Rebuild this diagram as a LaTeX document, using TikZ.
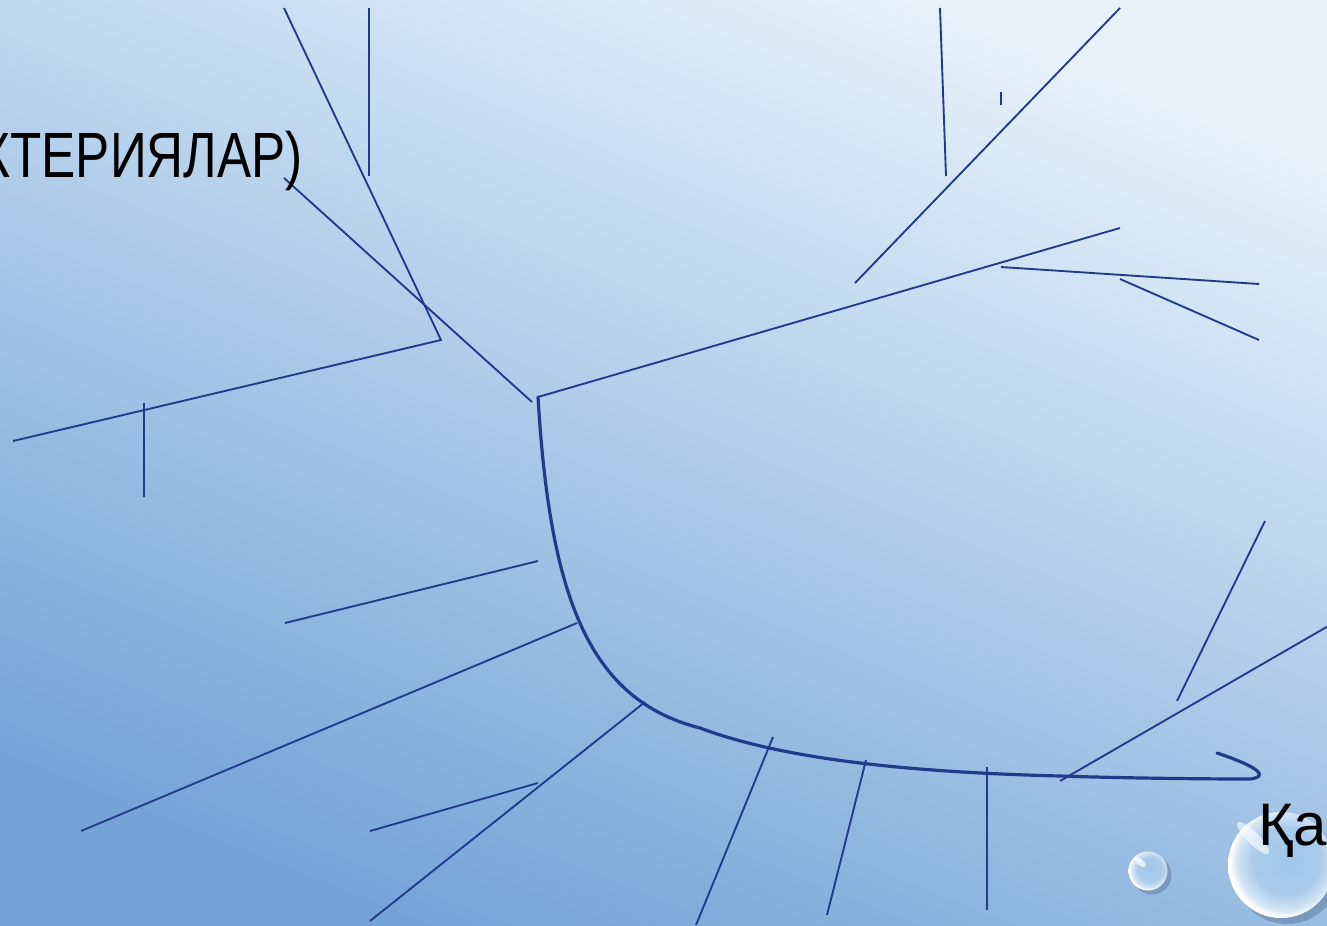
\documentclass[tikz,border=0pt]{standalone}
\usepackage{fontspec}
\setmainfont{Liberation Sans}
\definecolor{bgtop}{RGB}{230,241,250}
\definecolor{bgbot}{RGB}{116,164,215}
\definecolor{ln}{RGB}{33,58,138}
\definecolor{bubin}{RGB}{160,198,232}
\pgfdeclareradialshading{bubble}{\pgfpoint{4bp}{3bp}}{color(0bp)=(bubin); color(16bp)=(bubin!90!white); color(23bp)=(bubin!45!white); color(26bp)=(white); color(50bp)=(white)}
\tikzset{
  thin line/.style={draw=ln, line width=1.4pt},
  spine/.style={draw=ln, line width=2.4pt, line cap=round},
  label text/.style={font=\fontsize{45}{50}\selectfont, text=black, inner sep=0pt},
}
\begin{document}
\begin{tikzpicture}[x=0.75pt,y=-0.75pt]
\useasboundingbox (0,0) rectangle (1327,925);
\begin{scope}
\clip (0,0) rectangle (1327,925);
\shade[bottom color=bgbot, top color=bgtop, shading angle=-22] (0,0) rectangle (1327,925);

% coordinates
\coordinate (S0) at (538,397);
\coordinate (S1) at (700,728);
\coordinate (S2) at (1060,776);
\coordinate (S3) at (1250,779);
\coordinate (S4) at (1217,753);

\coordinate (U1) at (1120,228);
\coordinate (a1) at (284,178); \coordinate (a2) at (532,402);
\coordinate (b1) at (284,8);   \coordinate (b2) at (441,340);
\coordinate (c1) at (369,8);   \coordinate (c2) at (369,176);
\coordinate (d2) at (13,441);
\coordinate (e1) at (144,403); \coordinate (e2) at (144,497);
\coordinate (f1) at (940,8);   \coordinate (f2) at (946,176);
\coordinate (g1) at (1120,8);  \coordinate (g2) at (855,283);
\coordinate (h1) at (1001,92); \coordinate (h2) at (1001,105);
\coordinate (i1) at (1001,267);\coordinate (i2) at (1259,284);
\coordinate (j1) at (1120,279);\coordinate (j2) at (1259,340);
\coordinate (k1) at (538,561); \coordinate (k2) at (285,623);
\coordinate (l1) at (577,623); \coordinate (l2) at (81,831);
\coordinate (m1) at (538,783); \coordinate (m2) at (370,831);
\coordinate (n1) at (645,702); \coordinate (n2) at (370,921);
\coordinate (o1) at (773,737); \coordinate (o2) at (696,925);
\coordinate (p1) at (866,760); \coordinate (p2) at (827,915);
\coordinate (q1) at (987,767); \coordinate (q2) at (987,910);
\coordinate (r1) at (1265,521);\coordinate (r2) at (1177,701);
\coordinate (s1) at (1330,625);\coordinate (s2) at (1060,781);

% thin branches
\draw[thin line] (S0) -- (U1);
\draw[thin line] (a1) -- (a2);
\draw[thin line] (b1) -- (b2) -- (d2);
\draw[thin line] (c1) -- (c2);
\draw[thin line] (e1) -- (e2);
\draw[thin line] (f1) -- (f2);
\draw[thin line] (g1) -- (g2);
\draw[thin line] (h1) -- (h2);
\draw[thin line] (i1) -- (i2);
\draw[thin line] (j1) -- (j2);
\draw[thin line] (k1) -- (k2);
\draw[thin line] (l1) -- (l2);
\draw[thin line] (m1) -- (m2);
\draw[thin line] (n1) -- (n2);
\draw[thin line] (o1) -- (o2);
\draw[thin line] (p1) -- (p2);
\draw[thin line] (q1) -- (q2);
\draw[thin line] (r1) -- (r2);
\draw[thin line] (s1) -- (s2);

% spine
\draw[spine] (S0) .. controls (550,600) and (590,700) .. (S1)
  .. controls (780,758) and (900,772) .. (S2)
  .. controls (1120,778) and (1200,779) .. (S3)
  .. controls (1268,777) and (1262,768) .. (S4);

% bubbles
\fill[bgbot!55!black, opacity=0.35] (1152,875) circle (19.5);
\shade[shading=bubble] (1148,871) circle (19.5);
\fill[white, opacity=0.75, rotate around={-40:(1140,862)}] (1140,862) ellipse (7 and 3);
\fill[bgbot!55!black, opacity=0.35] (1287,871) circle (53);
\shade[shading=bubble] (1281,865) circle (53);
\fill[white, opacity=0.6, rotate around={-45:(1253,838)}] (1253,838) ellipse (22 and 6);

% texts
\node[label text, anchor=base east, font=\fontsize{48}{52}\selectfont] (t1) at (303,177) {\scalebox{0.8}[1]{БАКТЕРИЯЛАР)}};
\node[label text, anchor=base west] (t2) at (1258,845) {Қа};
\end{scope}
\end{tikzpicture}
\end{document}
